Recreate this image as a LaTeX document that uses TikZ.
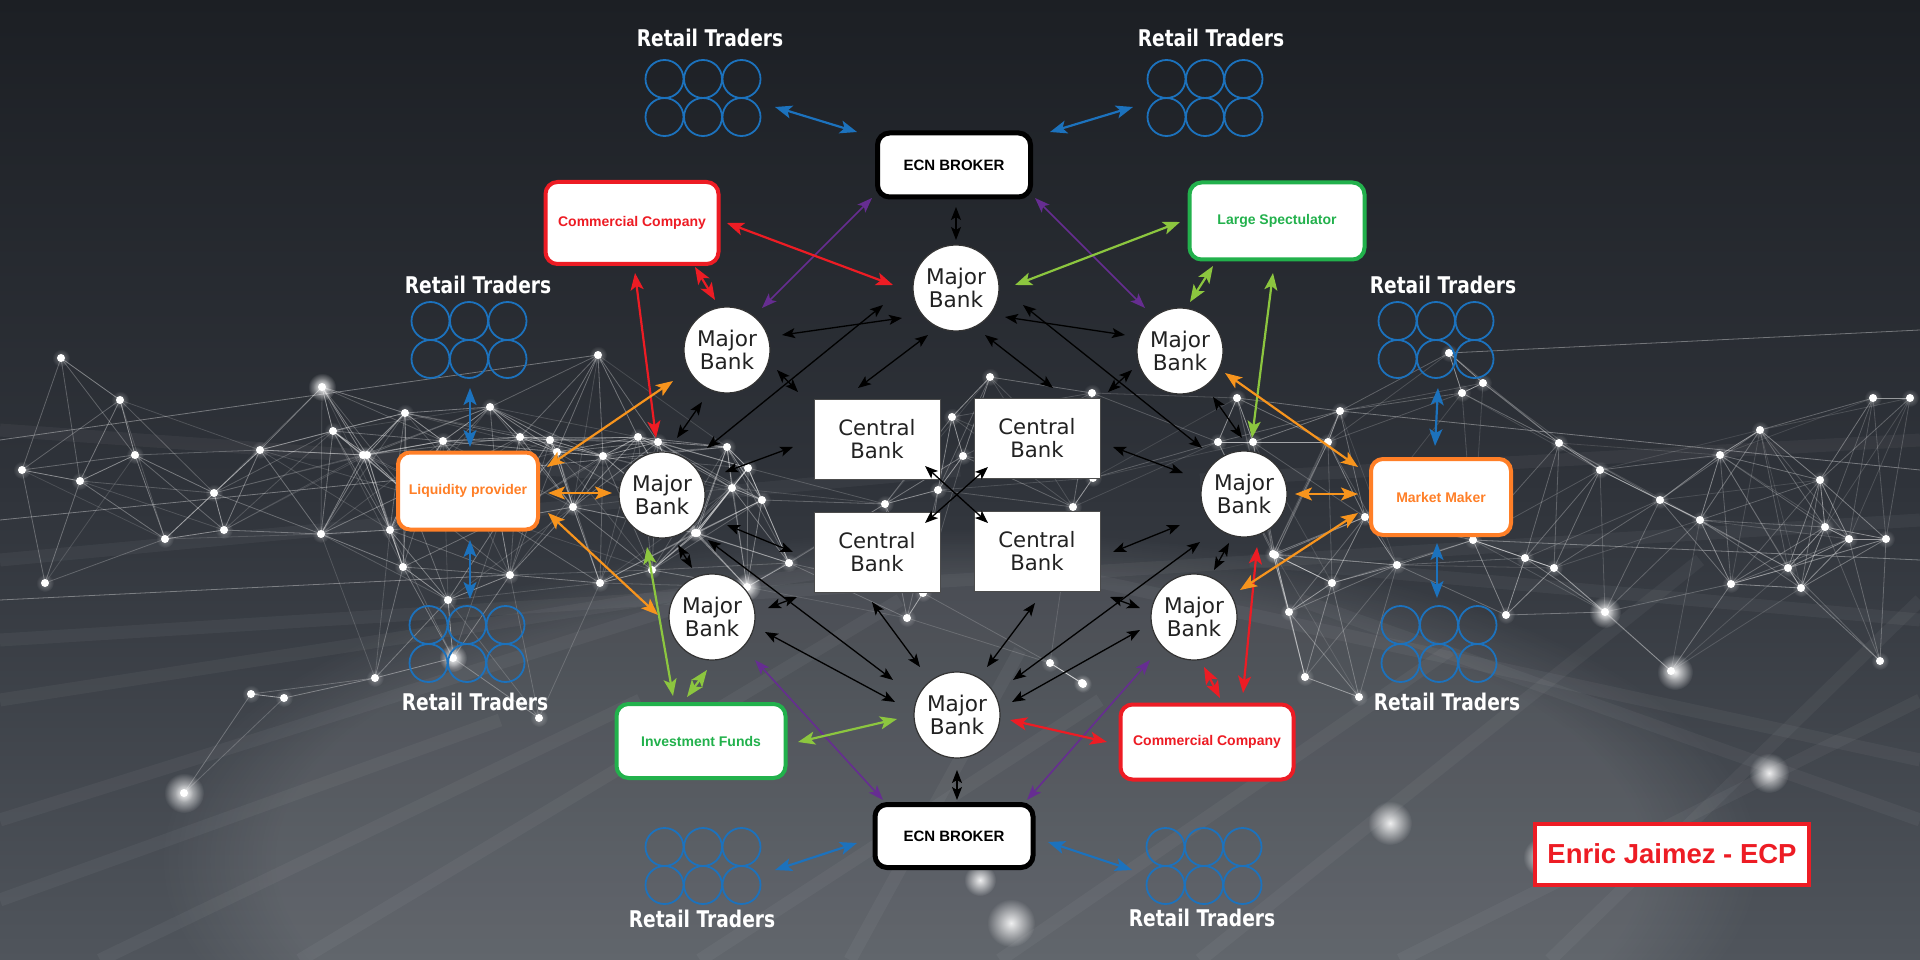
\documentclass[tikz,border=0pt]{standalone}
\usepackage{fontspec}
\setmainfont{Liberation Sans}
\newfontfamily\djv{DejaVu Sans}
\newfontfamily\rtf{DejaVu Sans}[FakeStretch=0.81]
\usetikzlibrary{arrows.meta,calc,fadings}
\tikzfading[name=fuzzyball, inner color=transparent!0, outer color=transparent!100]
\definecolor{cblue}{HTML}{1C72BD}
\definecolor{cred}{HTML}{ED1C24}
\definecolor{cgreen}{HTML}{22B14C}
\definecolor{clime}{HTML}{8CC63F}
\definecolor{corange}{HTML}{FF7F27}
\definecolor{carr}{HTML}{F7941D}
\definecolor{cpurple}{HTML}{662D91}
\definecolor{bgA}{HTML}{1C1F24}
\definecolor{bgM}{HTML}{2F333A}
\definecolor{bgB}{HTML}{50555C}
\definecolor{banktext}{HTML}{222222}
\newcommand\conn[5]{\draw[#1] ($(#2)+(#3)$) -- ($(#4)+(#5)$);}
\newcommand\retailgrp[5]{%
  \node[rtbox] (#1) at (#2,#3) {};
  \foreach \gi in {-1,0,1}{\foreach \gj in {-0.5,0.5}{%
    \draw[cblue, line width=1.8pt] ($(#1)+(\gi*38.5,\gj*38)$) circle[radius=19pt];}}
  \node[rtlabel] (#1-l) at ($(#1)+(#4,#5)$) {Retail Traders};}
\def\netpts{61/358, 135/455, 22/470, 80/481, 214/493, 322/387, 333/431, 367/455, 321/534, 407/493, 490/407, 598/355, 520/437, 224/530, 165/539, 45/583, 251/694, 284/698, 539/718, 184/793, 405/413, 443/441, 550/440, 557/452, 603/456, 638/437, 658/442, 363/455, 390/530, 573/507, 727/447, 732/488, 697/533, 748/468, 403/567, 510/575, 448/600, 375/678, 453/658, 600/583, 652/570, 952/417, 963/456, 938/490, 885/504, 1073/507, 1092/393, 1093/478, 907/618, 923/593, 762/500, 695/533, 789/563, 747/587, 1273/554, 1082/683, 1050/663, 990/377, 1237/398, 1253/442, 1218/442, 1340/411, 1462/393, 1483/383, 1449/353, 1559/443, 1328/442, 1365/517, 1473/540, 1525/558, 1397/565, 1275/555, 1289/612, 1332/583, 1554/568, 1506/615, 1605/612, 1731/584, 1801/588, 1305/677, 1083/684, 1359/697, 1873/398, 1910/398, 1720/455, 1849/539, 1886/539, 1880/661, 1788/568, 1825/527, 1671/671, 1600/470, 1660/500, 1760/430, 1700/520, 1820/480, 260/450, 120/400, 500/520}
\begin{document}
\begin{tikzpicture}[x=1pt,y=-1pt,
  mb/.style={circle, draw=black!80, line width=1.2pt, fill=white, minimum size=86pt, inner sep=0pt, align=center, text=banktext, font=\djv\fontsize{21.6}{22.5}\selectfont},
  cb/.style={rectangle, draw=black!70, line width=1pt, fill=white, minimum width=126pt, minimum height=80pt, inner sep=0pt, align=center, text=banktext, font=\djv\fontsize{21.2}{22.5}\selectfont},
  actor/.style={rectangle, rounded corners=12pt, fill=white, line width=4pt, inner sep=0pt, font=\bfseries\fontsize{14}{16}\selectfont},
  ecn/.style={actor, draw=black, line width=5pt, text=black, font=\bfseries\fontsize{15}{17}\selectfont},
  rtbox/.style={rectangle, minimum width=116pt, minimum height=76pt, inner sep=0pt},
  rtlabel/.style={text=white, inner sep=0pt, font=\rtf\bfseries\fontsize{23}{25}\selectfont},
  carrow/.style={line width=2.2pt, {Stealth[length=17pt,width=13pt,inset=4pt]}-{Stealth[length=17pt,width=13pt,inset=4pt]}},
  parrow/.style={line width=1.6pt, cpurple, {Stealth[length=15pt,width=11pt,inset=3.5pt]}-{Stealth[length=15pt,width=11pt,inset=3.5pt]}},
  barrow/.style={line width=1.3pt, black, {Stealth[length=13pt,width=10pt,inset=3pt]}-{Stealth[length=13pt,width=10pt,inset=3pt]}},
  netline/.style={white, line width=0.8pt},
  wideline/.style={white, opacity=0.045, line width=13pt}
]
\useasboundingbox (0,0) rectangle (1920,960);
% background
\shade[top color=bgA, bottom color=bgB, middle color=bgM] (0,0) rectangle (1920,960);
\fill[white, opacity=0.10, path fading=circle with fuzzy edge 15 percent] (960,860) ellipse [x radius=800pt, y radius=330pt];
\begin{scope}
\clip (0,0) rectangle (1920,960);
% wide soft lines
\foreach \ax/\ay/\bx/\by in {0/560/960/470, 0/700/900/560, 0/640/1920/520, 0/820/700/600, 300/960/900/600, 1000/960/1450/650, 1200/960/1700/560, 1400/960/1920/700, 1920/820/1300/600, 1920/760/1000/560, 700/960/1100/700, 0/900/500/720, 1550/960/1920/600, 100/960/640/700, 1920/620/1250/560, 0/430/700/480, 1920/440/1200/480, 850/960/1020/650}
  {\draw[wideline] (\ax,\ay) -- (\bx,\by);}
% network lines
\foreach \ax/\ay [count=\ni] in \netpts {
  \foreach \bx/\by [count=\nj] in \netpts {
    \ifnum\nj>\ni
      \pgfmathsetmacro\netd{veclen(\ax-\bx,\ay-\by)}
      \ifdim\netd pt<165pt
        \pgfmathsetmacro\netop{max(0.12,0.62-\netd/330)}
        \draw[netline, opacity=\netop] (\ax,\ay) -- (\bx,\by);
      \fi
    \fi
  }
}
\foreach \ax/\ay/\bx/\by in {0/440/598/355, 0/520/727/447, 1920/330/1449/353, 1920/560/1473/540, 1920/470/1340/411, 0/600/510/575}
  {\draw[netline, opacity=0.35] (\ax,\ay) -- (\bx,\by);}
% dots
\foreach \ax/\ay in \netpts {
  \fill[white, opacity=0.35, path fading=fuzzyball] (\ax,\ay) circle[radius=9pt];
  \fill[white] (\ax,\ay) circle[radius=4pt];
}
\foreach \ax/\ay/\r in {1390/823/22, 1769/773/20, 1543/857/20, 1011/923/24, 184/793/20, 1675/672/18, 1605/612/16, 980/880/16, 322/387/14, 747/587/14, 453/658/14}
  {\fill[white, opacity=0.9, path fading=fuzzyball] (\ax,\ay) circle[radius=\r pt];}
\end{scope}

% retail traders groups
\retailgrp{rtTL}{703}{98}{7}{-60}
\retailgrp{rtTR}{1205}{98}{6}{-60}
\retailgrp{rtLa}{469}{340}{9}{-55}
\retailgrp{rtRa}{1436}{340}{7}{-55}
\retailgrp{rtLb}{467}{644}{8}{58}
\retailgrp{rtRb}{1439}{644}{8}{58}
\retailgrp{rtBL}{703}{866}{-1}{53}
\retailgrp{rtBR}{1204}{866}{-2}{52}

% brokers
\node[ecn, minimum width=153pt, minimum height=64pt] (ecnT) at (954,165) {ECN BROKER};
\node[ecn, minimum width=158pt, minimum height=63pt] (ecnB) at (954,836) {ECN BROKER};

% banks
\node[mb] (mbT) at (956,288) {Major\\Bank};
\node[mb] (mbUL) at (727,350) {Major\\Bank};
\node[mb] (mbUR) at (1180,351) {Major\\Bank};
\node[mb] (mbL) at (662,495) {Major\\Bank};
\node[mb] (mbR) at (1244,494) {Major\\Bank};
\node[mb] (mbLL) at (712,617) {Major\\Bank};
\node[mb] (mbLR) at (1194,617) {Major\\Bank};
\node[mb] (mbB) at (957,715) {Major\\Bank};
\node[cb] (cbTL) at (877,439) {Central\\Bank};
\node[cb] (cbTR) at (1037,438) {Central\\Bank};
\node[cb] (cbBL) at (877,552) {Central\\Bank};
\node[cb] (cbBR) at (1037,551) {Central\\Bank};

% actors
\node[actor, draw=cred, text=cred, minimum width=173pt, minimum height=82pt] (cc1) at (632,223) {Commercial Company};
\node[actor, draw=cred, text=cred, minimum width=173pt, minimum height=75pt] (cc2) at (1207,742) {Commercial Company};
\node[actor, draw=cgreen, text=cgreen, minimum width=175pt, minimum height=77pt] (ls) at (1277,221) {Large Spectulator};
\node[actor, draw=cgreen, text=cgreen, minimum width=169pt, minimum height=74pt] (inv) at (701,741) {Investment Funds};
\node[actor, draw=corange, text=corange, minimum width=140pt, minimum height=77pt] (lp) at (468,491) {Liquidity provider};
\node[actor, draw=corange, text=corange, minimum width=140pt, minimum height=76pt] (mm) at (1441,497) {Market Maker};

\node[rectangle, draw=cred, line width=4pt, fill=white, minimum width=274pt, minimum height=61pt, text=cred, font=\bfseries\fontsize{27.5}{30}\selectfont] (enric) at (1672,854) {Enric Jaimez - ECP};

% blue connectors
\conn{carrow,cblue}{rtTL}{72,9}{ecnT}{-97,-33}
\conn{carrow,cblue}{ecnT}{96,-33}{rtTR}{-72,9}
\conn{carrow,cblue}{rtLa}{1,48}{lp}{2,-44}
\conn{carrow,cblue}{lp}{2,49}{rtLb}{3,-45}
\conn{carrow,cblue}{rtRa}{2,48}{mm}{-6,-51}
\conn{carrow,cblue}{mm}{-4,46}{rtRb}{-2,-46}
\conn{carrow,cblue}{rtBL}{72,4}{ecnB}{-97,7}
\conn{carrow,cblue}{ecnB}{94,6}{rtBR}{-72,4}

% purple connectors
\conn{parrow}{ecnT}{-82,33}{mbUL}{35,-42}
\conn{parrow}{ecnT}{81,33}{mbUR}{-35,-43}
\conn{parrow}{mbLL}{43,43}{ecnB}{-71,-36}
\conn{parrow}{mbLR}{-44,43}{ecnB}{73,-36}

% red connectors
\conn{carrow,cred}{cc1}{95,0}{mbT}{-63,-3}
\conn{carrow,cred}{cc1}{63,44}{mbUL}{-12,-50}
\conn{carrow,cred}{cc1}{3,50}{mbL}{-6,-57}
\conn{carrow,cred}{mbB}{53,5}{cc2}{-100,0}
\conn{carrow,cred}{mbLR}{10,50}{cc2}{13,-44}
\conn{carrow,cred}{mbR}{13,53}{cc2}{36,-49}

% green connectors
\conn{carrow,clime}{ls}{-97,1}{mbT}{59,-3}
\conn{carrow,clime}{ls}{-64,45}{mbUR}{10,-49}
\conn{carrow,clime}{ls}{-4,52}{mbR}{8,-56}
\conn{carrow,clime}{mbL}{-15,52}{inv}{-28,-45}
\conn{carrow,clime}{mbLL}{-5,53}{inv}{-14,-44}
\conn{carrow,clime}{inv}{97,1}{mbB}{-60,4}

% orange connectors
\conn{carrow,carr}{lp}{79,-24}{mbUL}{-54,31}
\conn{carrow,carr}{lp}{80,2}{mbL}{-50,-2}
\conn{carrow,carr}{lp}{80,22}{mbLL}{-54,-2}
\conn{carrow,carr}{mbUR}{45,22}{mm}{-83,-30}
\conn{carrow,carr}{mbR}{51,0}{mm}{-83,-3}
\conn{carrow,carr}{mm}{-83,16}{mbLR}{46,-27}

% black connectors
\conn{barrow}{ecnT}{2,42}{mbT}{0,-48}
\conn{barrow}{mbB}{0,55}{ecnB}{3,-36}
\conn{barrow}{mbUL}{55,-15}{mbT}{-54,30}
\conn{barrow}{mbL}{45,-47}{mbT}{-73,17}
\conn{barrow}{mbUL}{50,20}{cbTL}{-79,-47}
\conn{barrow}{mbUL}{-25,52}{mbL}{15,-57}
\conn{barrow}{mbT}{-28,47}{cbTL}{-19,-51}
\conn{barrow}{mbL}{63,-23}{cbTL}{-84,8}
\conn{barrow}{cbTL}{48,27}{cbBR}{-49,-28}
\conn{barrow}{cbTR}{-49,29}{cbBL}{48,-29}
\conn{barrow}{mbT}{49,29}{mbUR}{-55,-16}
\conn{barrow}{mbT}{67,17}{mbR}{-42,-46}
\conn{barrow}{mbUR}{-48,19}{cbTR}{71,-46}
\conn{barrow}{mbT}{29,47}{cbTR}{16,-50}
\conn{barrow}{mbUR}{33,46}{mbR}{-2,-56}
\conn{barrow}{cbTR}{76,9}{mbR}{-61,-21}
\conn{barrow}{cbBR}{76,1}{mbR}{-64,31}
\conn{barrow}{mbR}{-44,48}{mbB}{56,-35}
\conn{barrow}{mbR}{-15,49}{mbLR}{20,-47}
\conn{barrow}{cbBR}{73,46}{mbLR}{-54,-9}
\conn{barrow}{cbBR}{-2,52}{mbB}{30,-48}
\conn{barrow}{mbLR}{-54,13}{mbB}{55,-13}
\conn{barrow}{mbL}{16,50}{mbLL}{-20,-49}
\conn{barrow}{mbL}{65,30}{cbBL}{-84,0}
\conn{barrow}{mbL}{46,45}{mbB}{-64,-35}
\conn{barrow}{mbLL}{56,-9}{cbBL}{-80,45}
\conn{barrow}{mbLL}{53,15}{mbB}{-62,-13}
\conn{barrow}{cbBL}{-5,50}{mbB}{-37,-48}
\end{tikzpicture}
\end{document}
